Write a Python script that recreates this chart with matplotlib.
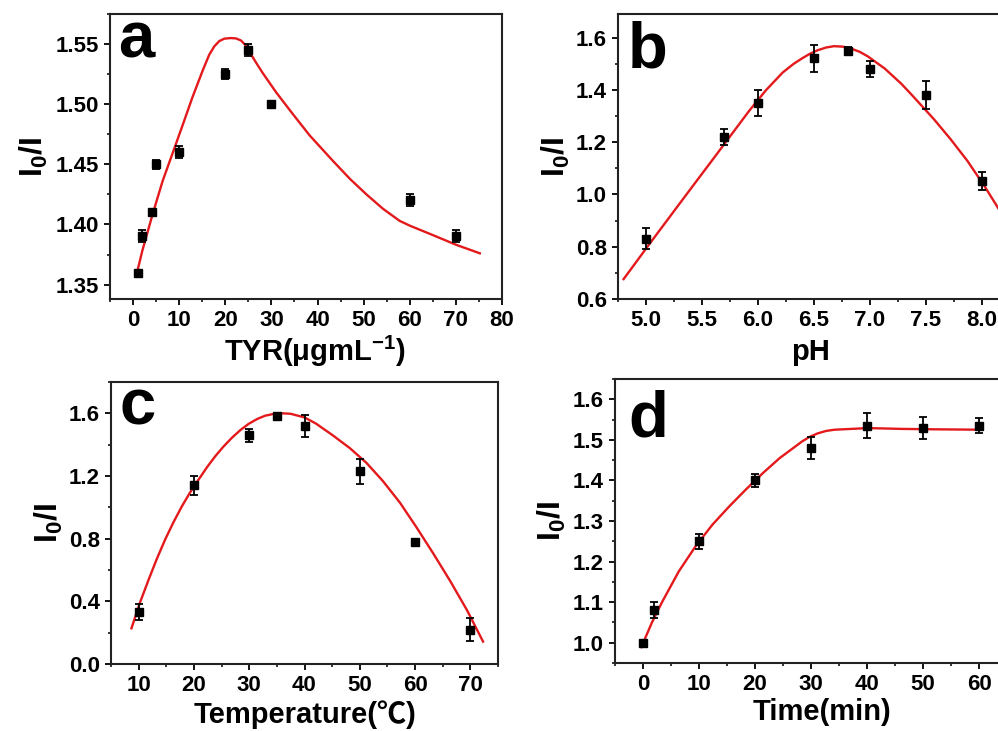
import numpy as np
import matplotlib
matplotlib.use("Agg")
from matplotlib import pyplot as plt
from matplotlib.ticker import MultipleLocator, FormatStrFormatter

plt.rcParams['font.family'] = ['Liberation Sans', 'Noto Sans CJK SC', 'DejaVu Sans']
plt.rcParams['font.weight'] = 'bold'
plt.rcParams['mathtext.fontset'] = 'custom'
plt.rcParams['mathtext.rm'] = 'Liberation Sans:bold'
plt.rcParams['mathtext.it'] = 'Liberation Sans:bold'
plt.rcParams['mathtext.bf'] = 'Liberation Sans:bold'

# ---- panel a : TYR concentration
tyr_x = [1, 2, 4, 5, 10, 20, 25, 30, 60, 70]
tyr_y = [1.360, 1.390, 1.410, 1.450, 1.460, 1.525, 1.545, 1.500, 1.420, 1.390]
tyr_err = [0.002, 0.005, 0.002, 0.004, 0.005, 0.004, 0.005, 0.003, 0.005, 0.005]
tyr_fit_x = [0.8, 2.0, 4.2, 6.4, 9.3, 10.7, 12.9, 15.1, 16.5, 17.6, 18.7, 19.8, 21.2,
             22.3, 23.4, 24.3, 25.2, 26.6, 28.1, 31.0, 34.6, 38.3, 43.3, 47.0, 50.6,
             54.2, 57.8, 60.0, 65.1, 70.1, 75.2]
tyr_fit_y = [1.359, 1.378, 1.408, 1.436, 1.467, 1.482, 1.506, 1.528, 1.541, 1.548, 1.5525,
             1.5545, 1.555, 1.5547, 1.553, 1.5494, 1.544, 1.535, 1.526, 1.510, 1.492,
             1.474, 1.453, 1.438, 1.425, 1.413, 1.403, 1.399, 1.391, 1.383, 1.376]

# ---- panel b : pH
ph_x = [5.0, 5.7, 6.0, 6.5, 6.8, 7.0, 7.5, 8.0]
ph_y = [0.83, 1.22, 1.35, 1.52, 1.55, 1.48, 1.38, 1.05]
ph_err = [0.04, 0.03, 0.05, 0.05, 0.015, 0.03, 0.055, 0.035]
ph_fit_x = [4.80, 5.03, 5.33, 5.63, 5.92, 6.07, 6.22, 6.32, 6.40, 6.46, 6.53, 6.61, 6.68,
            6.76, 6.83, 6.91, 6.98, 7.13, 7.28, 7.37, 7.57, 7.72, 7.87, 8.02, 8.16]
ph_fit_y = [0.676, 0.81, 0.982, 1.153, 1.319, 1.398, 1.466, 1.500, 1.522, 1.537, 1.551,
            1.562, 1.567, 1.565, 1.558, 1.545, 1.528, 1.482, 1.423, 1.382, 1.288, 1.211,
            1.128, 1.033, 0.937]

# ---- panel c : temperature
temp_x = [10, 20, 30, 35, 40, 50, 60, 70]
temp_y = [0.33, 1.14, 1.46, 1.58, 1.52, 1.23, 0.78, 0.22]
temp_err = [0.05, 0.063, 0.04, 0.02, 0.072, 0.08, 0.02, 0.072]
temp_fit_x = [8.7, 10.2, 11.8, 13.3, 14.8, 16.3, 17.8, 19.3, 20.9, 22.4, 23.9, 25.4,
              26.9, 28.4, 29.9, 31.5, 32.9, 34.5, 36.1, 37.5, 40.0, 42.1, 45.1, 48.2,
              51.2, 54.2, 57.3, 60.3, 63.3, 66.4, 69.4, 72.3]
temp_fit_y = [0.228, 0.388, 0.538, 0.672, 0.795, 0.905, 1.005, 1.095, 1.180, 1.258,
              1.328, 1.390, 1.445, 1.493, 1.533, 1.565, 1.585, 1.597, 1.600, 1.597,
              1.574, 1.534, 1.460, 1.378, 1.284, 1.167, 1.028, 0.870, 0.705, 0.527,
              0.343, 0.143]

# ---- panel d : time
time_x = [0, 2, 10, 20, 30, 40, 50, 60]
time_y = [1.00, 1.08, 1.25, 1.40, 1.48, 1.535, 1.53, 1.535]
time_err = [0.005, 0.02, 0.018, 0.015, 0.027, 0.03, 0.027, 0.018]
time_fit_x = [-0.3, 1.6, 3.4, 6.4, 9.4, 12.4, 15.4, 18.4, 21.4, 24.4, 28.4, 29.7, 31.2,
              32.7, 34.2, 40.2, 46.2, 52.1, 60.5]
time_fit_y = [0.989, 1.050, 1.100, 1.176, 1.238, 1.291, 1.336, 1.378, 1.418, 1.455,
              1.496, 1.507, 1.516, 1.522, 1.525, 1.529, 1.527, 1.526, 1.525]

W, H = 998, 731
fig = plt.figure(figsize=(W / 100, H / 100), dpi=100)


def px_axes(l, t, r, b):
    return fig.add_axes([l / W, 1 - b / H, (r - l) / W, (b - t) / H])


RED = '#e3191c'

panels = [
    dict(box=(110, 14, 502, 299), x=tyr_x, y=tyr_y, e=tyr_err, fx=tyr_fit_x, fy=tyr_fit_y,
         xlim=(-5, 80), ylim=(1.338, 1.575), xmaj=10, xmin=5, ymaj=0.05, ymin=0.025,
         yfmt='%.2f', xfmt='%d', xlabel=r'TYR($\mu$gmL$^{-1}$)', letter='a',
         lpos=(0.02, 0.849), ylab_x=-0.153, xlab=(0.523, -0.123)),
    dict(box=(618, 14, 1010, 299), x=ph_x, y=ph_y, e=ph_err, fx=ph_fit_x, fy=ph_fit_y,
         xlim=(4.75, 8.25), ylim=(0.6, 1.69), xmaj=0.5, xmin=0.25, ymaj=0.2, ymin=0.1,
         yfmt='%.1f', xfmt='%.1f', xlabel='pH', letter='b',
         lpos=(0.026, 0.814), ylab_x=-0.117, xlab=(0.49, -0.137)),
    dict(box=(111, 382, 498, 664), x=temp_x, y=temp_y, e=temp_err, fx=temp_fit_x, fy=temp_fit_y,
         xlim=(5, 75), ylim=(0, 1.8), xmaj=10, xmin=5, ymaj=0.4, ymin=0.2,
         yfmt='%.1f', xfmt='%d', xlabel='Temperature(℃)', letter='c',
         lpos=(0.023, 0.848), ylab_x=-0.119, xlab=(0.501, -0.128)),
    dict(box=(615, 379, 1007, 663), x=time_x, y=time_y, e=time_err, fx=time_fit_x, fy=time_fit_y,
         xlim=(-5, 65), ylim=(0.95, 1.65), xmaj=10, xmin=5, ymaj=0.1, ymin=0.05,
         yfmt='%.1f', xfmt='%d', xlabel='Time(min)', letter='d',
         lpos=(0.033, 0.796), ylab_x=-0.12, xlab=(0.529, -0.123)),
]

for p in panels:
    ax = px_axes(*p['box'])
    ax.plot(p['fx'], p['fy'], color=RED, lw=1.7, zorder=2, solid_joinstyle='round')
    ax.errorbar(p['x'], p['y'], yerr=p['e'], fmt='s', color='black', ms=6,
                ecolor='black', elinewidth=1.3, capsize=3, capthick=1.3, zorder=3)
    ax.set_xlim(*p['xlim'])
    ax.set_ylim(*p['ylim'])
    ax.xaxis.set_major_locator(MultipleLocator(p['xmaj']))
    ax.xaxis.set_minor_locator(MultipleLocator(p['xmin']))
    ax.yaxis.set_major_locator(MultipleLocator(p['ymaj']))
    ax.yaxis.set_minor_locator(MultipleLocator(p['ymin']))
    ax.xaxis.set_major_formatter(FormatStrFormatter(p['xfmt']))
    ax.yaxis.set_major_formatter(FormatStrFormatter(p['yfmt']))
    ax.tick_params(which='major', direction='out', length=4, width=1.3, labelsize=16, pad=4)
    ax.tick_params(which='minor', direction='out', length=2.5, width=1.1)
    for lab in ax.get_xticklabels() + ax.get_yticklabels():
        lab.set_fontweight('bold')
    for s in ax.spines.values():
        s.set_linewidth(1.5)
        s.set_color('#222222')
    ax.set_ylabel('I$_0$/I', fontsize=23, fontweight='bold')
    ax.yaxis.set_label_coords(p['ylab_x'], 0.5)
    ax.set_xlabel(p['xlabel'], fontsize=21, fontweight='bold')
    ax.xaxis.set_label_coords(*p['xlab'])
    ax.text(p['lpos'][0], p['lpos'][1], p['letter'], transform=ax.transAxes,
            fontsize=47, fontweight='bold', ha='left', va='baseline')

fig.savefig('out.png', dpi=100)
